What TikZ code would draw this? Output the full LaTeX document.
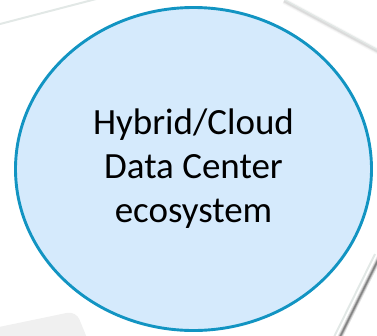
\documentclass[tikz,border=0pt]{standalone}
\usepackage{fontspec}
\setmainfont{Carlito}
\usetikzlibrary{shapes.geometric}
\definecolor{ecoblue}{RGB}{18,148,194}
\definecolor{ecofill}{RGB}{213,234,252}
\definecolor{edgegrey}{RGB}{226,232,230}
\definecolor{panelgrey}{RGB}{240,240,240}
\definecolor{shadowgrey}{RGB}{100,100,100}

\begin{document}
\begin{tikzpicture}[x=1pt, y=-1pt,
  ecosphere/.style={draw=ecoblue, line width=2.9pt, fill=ecofill, ellipse,
    minimum width=356pt, minimum height=323pt, inner sep=0pt, align=center,
    font=\fontsize{37}{44}\selectfont},
  bgedge/.style={draw=edgegrey, line width=2pt}]
\useasboundingbox (0,0) rectangle (377,335);

% Background panels
\fill[panelgrey, rounded corners=9pt] (-30,333) -- (76,311) -- (96,360) -- (-30,380) -- cycle;
\draw[bgedge] (0,24) -- (100,-2);
\foreach \w/\o in {6/0.05,4/0.08,2.5/0.12} {
  \draw[shadowgrey, opacity=\o, line width=\w pt] (284,1) -- (379,52);
}
\draw[edgegrey, line width=1.2pt] (283,-1) -- (378,50);
\foreach \w/\o in {5/0.2,3/0.35,1.5/0.6} {
  \draw[shadowgrey, opacity=\o, line width=\w pt] (380,256) -- (340,337);
}
\draw[edgegrey, line width=2pt] (375,254) -- (334,337);

% Ecosystem ellipse
\node[ecosphere] (ecosystem) at (193.5,169) {Hybrid/Cloud\\Data Center\\ecosystem};
\end{tikzpicture}
\end{document}
